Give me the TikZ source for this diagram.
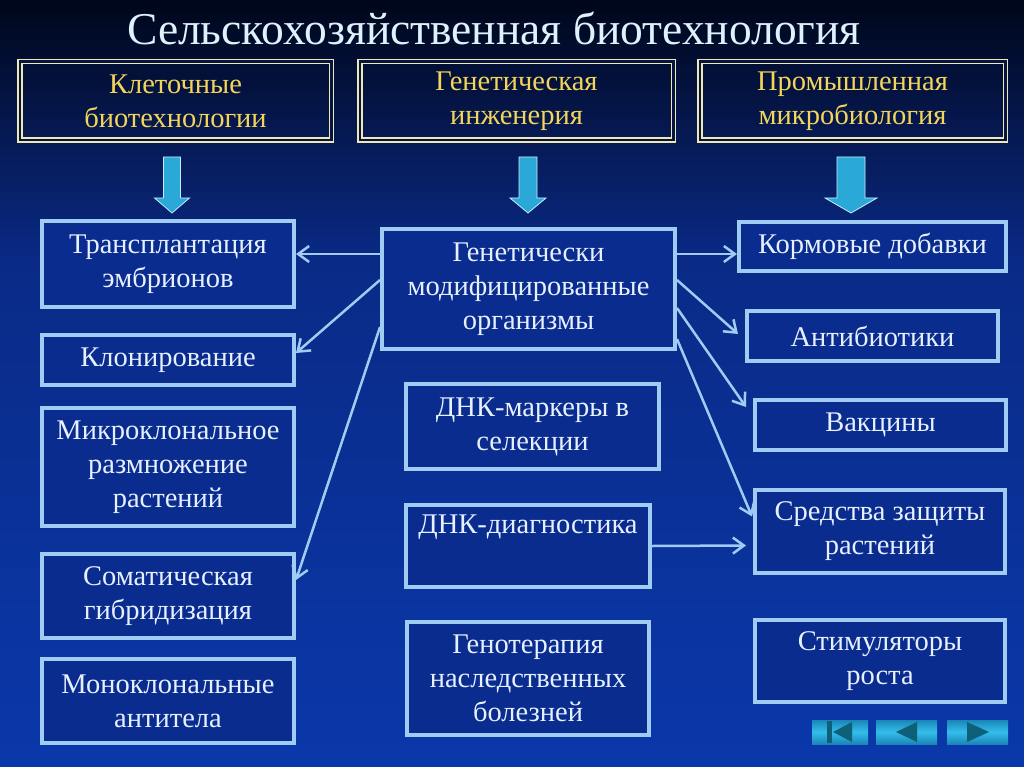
\documentclass[tikz,border=0pt]{standalone}
\usepackage{fontspec}
\setmainfont{Liberation Serif}
\usetikzlibrary{arrows.meta,calc}
\definecolor{bgtop}{HTML}{00061A}
\definecolor{bgmid}{HTML}{0A2A86}
\definecolor{bgbot}{HTML}{0A38AA}
\definecolor{boxfill}{HTML}{0A2C8E}
\definecolor{boxline}{HTML}{A0CCF4}
\definecolor{txt}{HTML}{E6F0FF}
\definecolor{gold}{HTML}{F2D55A}
\definecolor{cream}{HTML}{F0E8B0}
\definecolor{titlec}{HTML}{DDF2FC}
\definecolor{cyanA}{HTML}{2AA8D8}
\definecolor{cyanE}{HTML}{C8ECFA}
\definecolor{navA}{HTML}{1A86B8}
\definecolor{navB}{HTML}{34BDEB}
\definecolor{navtri}{HTML}{0E5F78}
\newcommand\mybarrow[3]{%
  \draw[draw=cyanE, line width=0.8pt, fill=cyanA]
    (#1-#2,157) -- (#1+#2,157) -- (#1+#2,198) -- (#1+#3,198) -- (#1,213)
    -- (#1-#3,198) -- (#1-#2,198) -- cycle;}
\begin{document}
\begin{tikzpicture}[x=1pt,y=-1pt,
  item/.style={draw=boxline, line width=4pt, fill=boxfill, text=txt, align=center,
    font=\fontsize{28.5}{34}\selectfont, inner sep=0pt},
  topbox/.style={draw=cream, line width=1.5pt, double=bgtop!60!bgmid, double distance=2.5pt,
    text=gold, align=center, font=\fontsize{28.5}{34}\selectfont, inner sep=0pt},
  link/.style={draw=boxline, line width=2.5pt,
    -{Straight Barb[length=11pt,width=16pt,line width=2.5pt]}},
]
\useasboundingbox (0,0) rectangle (1024,767);
\shade[top color=bgtop, bottom color=bgmid] (0,0) rectangle (1024,260);
\shade[top color=bgmid, bottom color=bgbot] (0,259) rectangle (1024,767);

\node[text=titlec, font=\fontsize{45.5}{50}\selectfont] (title) at (494,28) {Сельскохозяйственная биотехнология};

\node[topbox, minimum width=311.5pt, minimum height=78.5pt] (t1) at (175.5,101) {Клеточные\\биотехнологии};
\node[topbox, minimum width=313.5pt, minimum height=78.5pt] (t2) at (516.5,101) {Генетическая\\инженерия};
\node[topbox, minimum width=305.5pt, minimum height=78.5pt] (t3) at (852.5,101) {Промышленная\\микробиология};

\mybarrow{172}{8.5}{17.5}
\mybarrow{528}{9}{18}
\mybarrow{851}{14}{26}

\node[item, minimum width=252pt, minimum height=86pt] (l1) at (168,264) {Трансплантация\\эмбрионов};
\node[item, minimum width=252pt, minimum height=50pt] (l2) at (168,360) {Клонирование};
\node[item, minimum width=252pt, minimum height=118pt] (l3) at (168,467) {Микроклональное\\размножение\\растений};
\node[item, minimum width=252pt, minimum height=84pt] (l4) at (168,596) {Соматическая\\гибридизация};
\node[item, minimum width=252pt, minimum height=84pt] (l5) at (168,701) {Моноклональные\\антитела};

\node[item, minimum width=293pt, minimum height=120pt] (c1) at (528.5,289) {Генетически\\модифицированные\\организмы};
\node[item, minimum width=253pt, minimum height=85pt] (c2) at (532.5,426.5) {ДНК-маркеры в\\селекции};
\node[item, minimum width=244pt, minimum height=82pt] (c3) at (528,546) {ДНК-диагностика\\\strut};
\node[item, minimum width=242pt, minimum height=113pt] (c4) at (528,678.5) {Генотерапия\\наследственных\\болезней};

\node[item, minimum width=267pt, minimum height=49pt] (r1) at (872.5,246.5) {Кормовые добавки};
\node[item, minimum width=251pt, minimum height=50pt] (r2) at (872.5,336) {Антибиотики};
\node[item, minimum width=251pt, minimum height=50pt] (r3) at (880.5,425) {Вакцины};
\node[item, minimum width=250pt, minimum height=83pt] (r4) at (880,531.5) {Средства защиты\\растений};
\node[item, minimum width=250pt, minimum height=82pt] (r5) at (880,661) {Стимуляторы\\роста};

\draw[link] ([yshift=35pt]c1.west) -- ([yshift=10pt]l1.east);
\draw[link] ([yshift=9pt]c1.west) -- ([yshift=7pt]l2.east);
\draw[link] ([yshift=-38pt]c1.west) -- ([yshift=16pt]l4.east);
\draw[link] ([yshift=35pt]c1.east) -- ([yshift=-7.5pt]r1.west);
\draw[link] ([yshift=9pt]c1.east) -- ([xshift=-7pt,yshift=2pt]r2.west);
\draw[link] ([yshift=-19pt]c1.east) -- ([xshift=-7pt,yshift=18pt]r3.west);
\draw[link] ([yshift=-50pt]c1.east) -- ([xshift=-1pt,yshift=15pt]r4.west);
\draw[link] (c3.east) -- ([xshift=-7pt,yshift=-14pt]r4.west);

% navigation buttons
\shade[top color=navA, bottom color=navA, middle color=navB] (812,720) rectangle (868,744);
\fill[navtri] (827,721) rectangle (832,743);
\fill[navtri] (833,732) -- (852,722) -- (852,742) -- cycle;
\shade[top color=navA, bottom color=navA, middle color=navB] (876,720) rectangle (937,744);
\fill[navtri] (896,732) -- (917,722) -- (917,742) -- cycle;
\shade[top color=navA, bottom color=navA, middle color=navB] (947,720) rectangle (1008,744);
\fill[navtri] (989,732) -- (967,722) -- (967,742) -- cycle;
\end{tikzpicture}
\end{document}
